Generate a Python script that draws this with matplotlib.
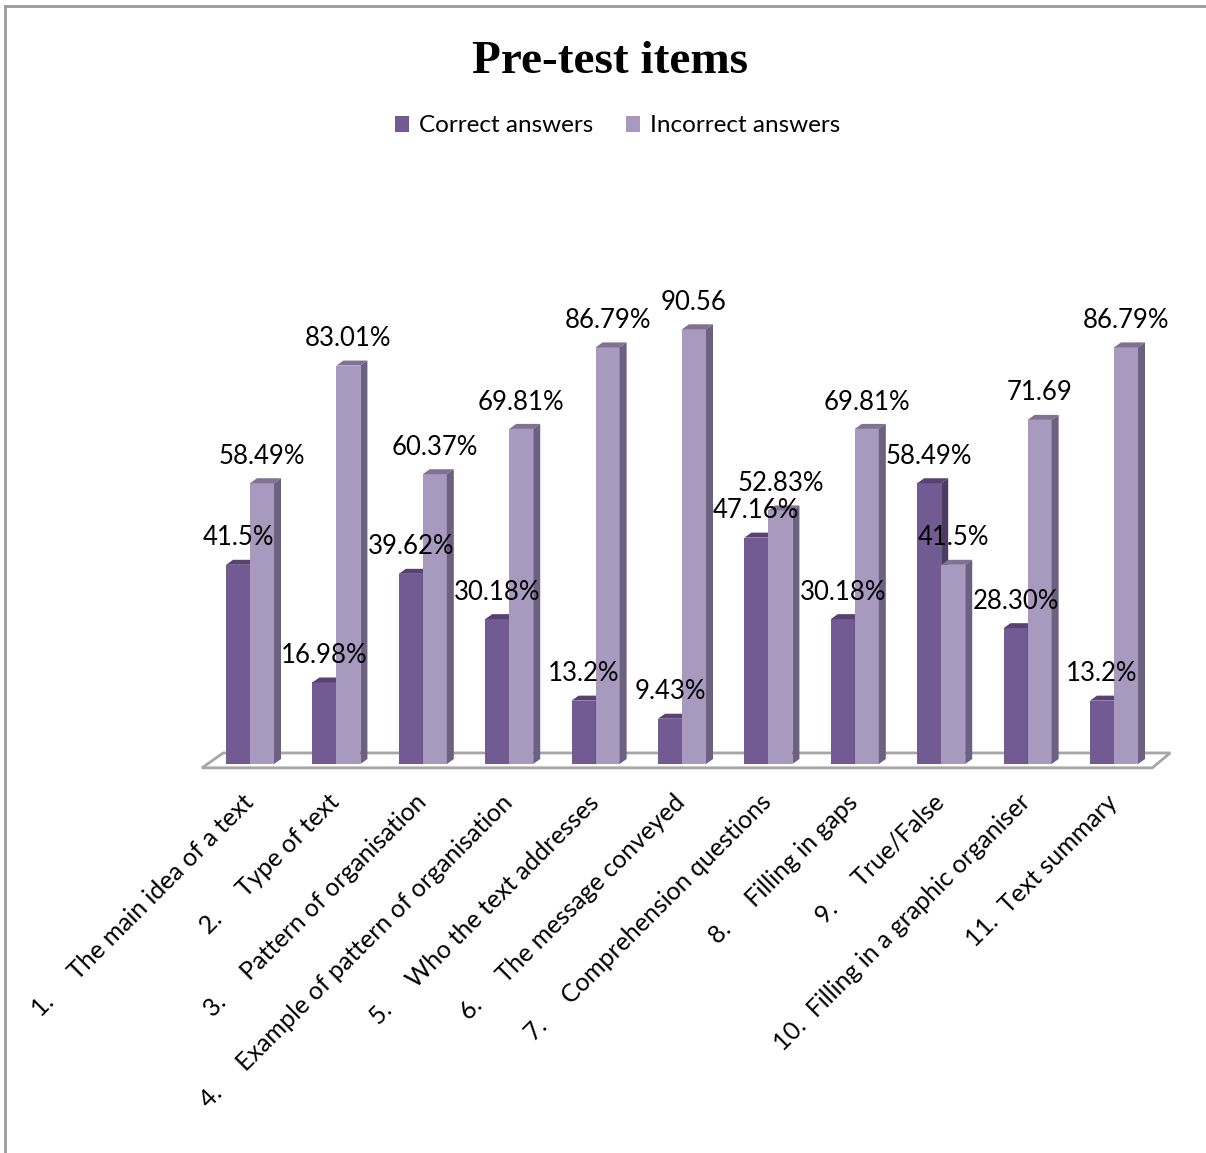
import numpy as np
import matplotlib
matplotlib.use("Agg")
import matplotlib.pyplot as plt
from matplotlib.patches import Polygon, Patch

plt.rcParams['font.family'] = ['Lato', 'DejaVu Sans']

items = ["1.     The main idea of a text",
         "2.     Type of text",
         "3.     Pattern of organisation",
         "4.     Example of pattern of organisation",
         "5.     Who the text addresses",
         "6.     The message conveyed",
         "7.     Comprehension questions",
         "8.     Filling in gaps",
         "9.     True/False",
         "10.  Filling in a graphic organiser",
         "11.  Text summary"]
correct = [41.5, 16.98, 39.62, 30.18, 13.2, 9.43, 47.16, 30.18, 58.49, 28.30, 13.2]
incorrect = [58.49, 83.01, 60.37, 69.81, 86.79, 90.56, 52.83, 69.81, 41.5, 71.69, 86.79]
correct_lbl = ["41.5%", "16.98%", "39.62%", "30.18%", "13.2%", "9.43%", "47.16%",
               "30.18%", "58.49%", "28.30%", "13.2%"]
incorrect_lbl = ["58.49%", "83.01%", "60.37%", "69.81%", "86.79%", "90.56", "52.83%",
                 "69.81%", "41.5%", "71.69", "86.79%"]

# colours: front, top, side
c_front, c_top, c_side = "#725A93", "#574273", "#4D3B64"
i_front, i_top, i_side = "#A899BF", "#7F7293", "#6C6180"

W, H = 1206, 1153
fig = plt.figure(figsize=(W / 100, H / 100), dpi=100)
ax = fig.add_axes([0, 0, 1, 1])
ax.set_axis_off()

# pixel mapping: category spacing 86.4 px, 4.8 px per percent, baseline at y=764
px_x, px_y, x0px, y0px = 86.4, 4.8, 250, 764
ax.set_xlim(-x0px / px_x, (W - x0px) / px_x)
ax.set_ylim(-(H - y0px) / px_y, y0px / px_y)

x = np.arange(len(items))
bw = 0.278
dx, dy = 7 / px_x, 5 / px_y

# floor
floor = Polygon([(-0.556, -0.8), (len(items) - 0.556, -0.8),
                 (len(items) - 0.35, 2.3), (-0.31, 2.3)],
                closed=True, facecolor="white", edgecolor="#A6A6A6", lw=2, zorder=1)
ax.add_patch(floor)


def bar3d(xl, h, front, top, side, z):
    xr = xl + bw
    ax.bar(xl, h, width=bw, align="edge", color=front, zorder=z, lw=0)
    ax.add_patch(Polygon([(xl, h), (xl + dx, h + dy), (xr + dx, h + dy), (xr, h)],
                         closed=True, facecolor=top, lw=0, zorder=z))
    ax.add_patch(Polygon([(xr, 0), (xr + dx, dy), (xr + dx, h + dy), (xr, h)],
                         closed=True, facecolor=side, lw=0, zorder=z))


for i in x:
    bar3d(i - bw, correct[i], c_front, c_top, c_side, 2 + i * 0.01)
    bar3d(i, incorrect[i], i_front, i_top, i_side, 2.005 + i * 0.01)

for i in x:
    ax.text(i - bw / 2, correct[i] + 3.0, correct_lbl[i], ha="center", va="bottom",
            fontsize=18.5, color="black", zorder=5)
    ax.text(i + bw / 2, incorrect[i] + 3.0, incorrect_lbl[i], ha="center", va="bottom",
            fontsize=18.5, color="black", zorder=5)
    ax.text(i - 0.1, -5.5, items[i], rotation=45, rotation_mode="anchor",
            ha="right", va="top", fontsize=18, color="black")

fig.text(0.506, 1 - 62 / H, "Pre-test items", ha="center", va="center",
         fontsize=34, fontweight="bold", family="Liberation Serif")

handles = [Patch(facecolor=c_front, label="Correct answers"),
           Patch(facecolor=i_front, label="Incorrect answers")]
fig.legend(handles=handles, loc="center", bbox_to_anchor=(0.512, 1 - 126 / H), ncol=2,
           frameon=False, fontsize=17.5, handlelength=0.6, handleheight=0.6,
           handletextpad=0.4, columnspacing=1.35)

# outer frame (left and top)
fig.add_artist(plt.Line2D([5 / W, 5 / W], [0, 1 - 6 / H], color="#9A9A9A", lw=2))
fig.add_artist(plt.Line2D([5 / W, 1], [1 - 6 / H, 1 - 6 / H], color="#9A9A9A", lw=2))

fig.savefig("out.png", dpi=100)
